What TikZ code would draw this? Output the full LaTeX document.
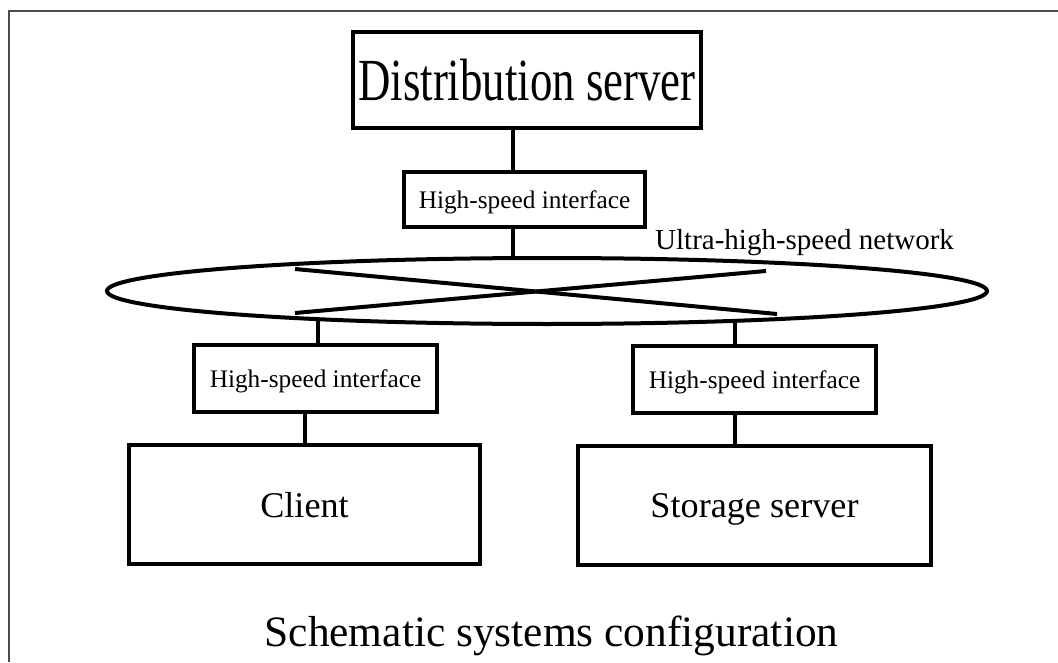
\documentclass[tikz,border=0pt]{standalone}
\usepackage{graphicx}
\usepackage{fontspec}
\setmainfont{Liberation Serif}
\usetikzlibrary{calc,shapes.geometric}
\def\fsz#1{\fontsize{#1}{#1}\selectfont}

\begin{document}
\begin{tikzpicture}[
		unit/.style={draw, line width=0.9mm, inner sep=0pt, outer sep=0pt, text depth=0pt},
		link/.style={line width=0.8mm}]
		%%%%% START %%%%%
		\useasboundingbox (0, 0) rectangle (21.16, 13.24);
		
		% page frame
		\draw[line width=0.35mm, color=black!70] (21.16, 13.02) -- (0.18, 13.02) -- (0.18, 0);
		
		\node[unit, minimum width=6.96cm, minimum height=1.92cm] (dist) at (10.54, 11.64) {\scalebox{0.75}[1]{\fsz{34}Distribution server}};
		\node[unit, minimum width=4.82cm, minimum height=1.1cm] (hsiTop) at (10.49, 9.25) {\fsz{14.4}High-speed interface};
		
		% network ring
		\node[unit, ellipse, line width=0.8mm, minimum width=17.6cm, minimum height=1.32cm] (lan) at (10.94, 7.42) {};
		\node[anchor=base west] (lanlbl) at (12.98, 8.24) {\fsz{16.5}Ultra-high-speed network};
		\draw[link] (5.9, 7.86) -- (15.54, 6.96);
		\draw[link] (5.9, 6.98) -- (15.32, 7.82);
		
		\node[unit, minimum width=4.86cm, minimum height=1.34cm] (hsiL) at (6.31, 5.67) {\fsz{14.4}High-speed interface};
		\node[unit, minimum width=4.86cm, minimum height=1.34cm] (hsiR) at (15.09, 5.65) {\fsz{14.4}High-speed interface};
		
		\node[unit, minimum width=7.02cm, minimum height=2.38cm] (client) at (6.09, 3.15) {\fsz{20.6}Client};
		\node[unit, minimum width=7.06cm, minimum height=2.38cm] (store) at (15.09, 3.13) {\fsz{20.6}Storage server};
		
		% links
		\coordinate (upx) at (10.26, 0);
		\draw[link] (dist.south -| upx) -- (hsiTop.north -| upx);
		\draw[link] (hsiTop.south -| upx) -- (lan.north -| upx);
		\draw[link] (lan.187) -- (lan.187 |- hsiL.north);
		\draw[link] (lan.351) -- (lan.351 |- hsiR.north);
		\draw[link] (hsiL.south -| client.north) -- (client.north);
		\draw[link] (hsiR.south -| lan.351) -- (store.north -| lan.351);
		
		\node[anchor=base] (title) at (11.03, 0.32) {\fsz{24.7}Schematic systems configuration};
		
		%%%%% END %%%%%
\end{tikzpicture}
\end{document}
